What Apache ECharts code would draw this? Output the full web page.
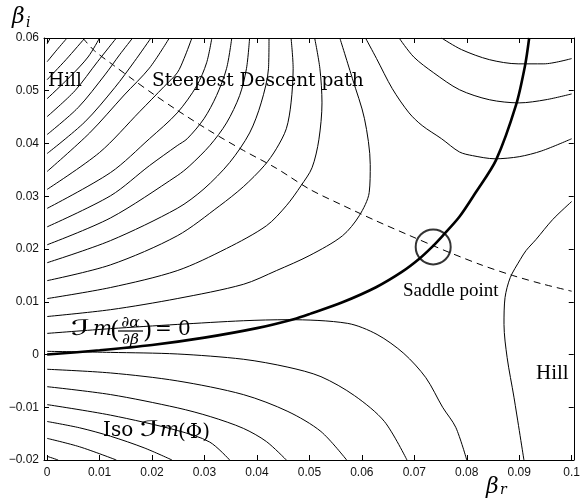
<!DOCTYPE html>
<html><head><meta charset="utf-8">
<script src="https://cdn.jsdelivr.net/npm/echarts@6/dist/echarts.min.js"></script>
<style>html,body{margin:0;padding:0;background:#fff}#c{width:583px;height:502px}</style>
</head><body><div id="c"></div>
<script>
// ---- tick values ----
const xTickValues = [0,0.01,0.02,0.03,0.04,0.05,0.06,0.07,0.08,0.09,0.1];
const yTickValues = [-0.02,-0.01,0,0.01,0.02,0.03,0.04,0.05,0.06];

// ---- iso Im(Phi) contours around the upper-left hill ----
const hillContours = [
  [[0,0.0589],[0.0006,0.06]],
  [[0,0.0555],[0.0019,0.0578],[0.0038,0.06]],
  [[0,0.0521],[0.0036,0.0559],[0.0072,0.06]],
  [[0,0.0485],[0.0044,0.0527],[0.0078,0.0564],[0.0100,0.06]],
  [[0,0.0451],[0.0053,0.0500],[0.0096,0.0555],[0.0132,0.06]],
  [[0,0.0417],[0.0059,0.0468],[0.0110,0.0530],[0.0138,0.0568],[0.0163,0.06]],
  [[0,0.0381],[0.0072,0.0441],[0.0129,0.0506],[0.0166,0.0555],[0.0198,0.06]],
  [[0,0.0347],[0.0081,0.0420],[0.0147,0.0492],[0.0195,0.0543],[0.0233,0.06]],
  [[0,0.0313],[0.0100,0.0383],[0.0176,0.0460],[0.0223,0.0508],[0.0248,0.0534],[0.0261,0.0561],[0.0276,0.06]],
  [[0,0.0277],[0.0121,0.0345],[0.0195,0.0409],[0.0248,0.0458],[0.0285,0.0509],[0.0304,0.0553],[0.0314,0.06]],
  [[0,0.0242],[0.0121,0.0301],[0.0195,0.0358],[0.0248,0.0396],[0.0267,0.0409],[0.0299,0.0447],[0.0323,0.0491],[0.0342,0.0542],[0.0352,0.06]],
  [[0,0.0208],[0.0121,0.0259],[0.0248,0.0339],[0.0272,0.0358],[0.0310,0.0396],[0.0342,0.0439],[0.0367,0.0491],[0.0380,0.0542],[0.0386,0.06]],
  [[0,0.0174],[0.0121,0.0216],[0.0248,0.0277],[0.0299,0.0314],[0.0348,0.0364],[0.0386,0.0420],[0.0408,0.0477],[0.0422,0.0542],[0.0423,0.06]],
  [[0,0.0140],[0.0121,0.0170],[0.0248,0.0225],[0.0329,0.0282],[0.0374,0.0318],[0.0414,0.0358],[0.0437,0.0390],[0.0456,0.0428],[0.0465,0.0477],[0.0469,0.0542],[0.0465,0.06]],
  [[0,0.0106],[0.0121,0.0127],[0.0248,0.0159],[0.0342,0.0201],[0.0418,0.0244],[0.0456,0.0282],[0.0484,0.0320],[0.0505,0.0354],[0.0518,0.0407],[0.0524,0.0477],[0.0520,0.0542],[0.0510,0.06]],
  [[0,0.0072],[0.0121,0.0085],[0.0248,0.0106],[0.0374,0.0133],[0.0437,0.0159],[0.0501,0.0188],[0.0563,0.0225],[0.0595,0.0263],[0.0614,0.0307],[0.0616,0.0360],[0.0605,0.0447],[0.0582,0.0523],[0.0558,0.06]]
];

// ---- contour crossing the thick curve ----
const crossingContour = [[0,0.0040],[0.0121,0.0049],[0.0248,0.0057],[0.0374,0.0064],[0.0459,0.0066],[0.0573,0.0059],[0.0629,0.0038],[0.0680,0.0002],[0.0722,-0.0044],[0.0754,-0.0100],[0.0779,-0.0138],[0.0800,-0.02]];

// ---- lower-left contours ----
const valleyContours = [
  [[0,0.0006],[0.0121,0.0004],[0.0248,0.0001],[0.0374,-0.0009],[0.0459,-0.0024],[0.0522,-0.0042],[0.0586,-0.0078],[0.0643,-0.0127],[0.0686,-0.02]],
  [[0,-0.0028],[0.0121,-0.0035],[0.0248,-0.0050],[0.0374,-0.0076],[0.0459,-0.0108],[0.0522,-0.0146],[0.0571,-0.02]],
  [[0,-0.0061],[0.0121,-0.0076],[0.0248,-0.0101],[0.0312,-0.0118],[0.0374,-0.0140],[0.0418,-0.0165],[0.0456,-0.02]],
  [[0,-0.0095],[0.0121,-0.0115],[0.0248,-0.0144],[0.0310,-0.0166],[0.0348,-0.02]],
  [[0,-0.0127],[0.0062,-0.0139],[0.0121,-0.0155],[0.0185,-0.0177],[0.0238,-0.02]],
  [[0,-0.0159],[0.0062,-0.0175],[0.0132,-0.02]],
  [[0,-0.0193],[0.0021,-0.02]]
];

// ---- upper-right contours ----
const upperRightContours = [
  [[0.0752,0.06],[0.0790,0.0578],[0.0843,0.0559],[0.0898,0.0551],[0.0947,0.0551],[0.1,0.0561]],
  [[0.0671,0.06],[0.0699,0.0564],[0.0737,0.0534],[0.0786,0.0502],[0.0843,0.0483],[0.0900,0.0477],[0.0951,0.0483],[0.1,0.0494]],
  [[0.0607,0.06],[0.0628,0.0561],[0.0658,0.0504],[0.0690,0.0458],[0.0715,0.0434],[0.0752,0.0409],[0.0786,0.0384],[0.0811,0.0377],[0.0854,0.0371],[0.0900,0.0375],[0.0943,0.0386],[0.1,0.0409]]
];

// ---- lower-right hill contour ----
const lowerRightContour = [[0.1,0.0290],[0.0964,0.0256],[0.0932,0.0218],[0.0913,0.0197],[0.0902,0.0180],[0.0883,0.0146],[0.0873,0.0108],[0.0871,0.0057],[0.0877,-0.0006],[0.0890,-0.0081],[0.0909,-0.02]];

// ---- Im(d alpha / d beta) = 0 (thick) ----
const thickCurve = [[0,0],[0.0100,0.0008],[0.0200,0.0018],[0.0300,0.0032],[0.0400,0.0050],[0.0470,0.0067],[0.0501,0.0077],[0.0563,0.0099],[0.0628,0.0128],[0.0677,0.0157],[0.0709,0.0181],[0.0733,0.0203],[0.0754,0.0225],[0.0786,0.0261],[0.0817,0.0307],[0.0856,0.0369],[0.0894,0.0473],[0.0911,0.0547],[0.0919,0.06]];

// ---- steepest descent path (dashed) ----
const descentPath = [[0.0068,0.06],[0.0090,0.0576],[0.0127,0.0548],[0.0164,0.0521],[0.0202,0.0494],[0.0248,0.0463],[0.0310,0.0424],[0.0374,0.0387],[0.0437,0.0353],[0.0501,0.0313],[0.0563,0.0283],[0.0628,0.0253],[0.0690,0.0226],[0.0739,0.0205],[0.0773,0.0191],[0.0830,0.0169],[0.0887,0.0150],[0.0943,0.0134],[0.1,0.0120]];

// ---- saddle point ----
const saddlePoint = [[0.0736,0.0204]];

// =====================================================
const fmt = v => {
  if (Math.abs(v) < 1e-9) return '0';
  return parseFloat(v.toFixed(2)).toString().replace('-', '\u2212');
};
const lineSeries = (data, width, extra) => Object.assign({
  type: 'line', data, symbol: 'none', showSymbol: false, smooth: 0.3,
  silent: true, animation: false,
  lineStyle: { color: '#000', width: width }
}, extra || {});

const series = [];
hillContours.forEach(d => series.push(lineSeries(d, 1)));
valleyContours.forEach(d => series.push(lineSeries(d, 1)));
upperRightContours.forEach(d => series.push(lineSeries(d, 1)));
series.push(lineSeries(crossingContour, 1));
series.push(lineSeries(lowerRightContour, 1));
series.push(lineSeries(descentPath, 1, { lineStyle: { color: '#000', width: 1, type: [7, 5] } }));
series.push(lineSeries(thickCurve, 2.6, { z: 4 }));
series.push({
  type: 'scatter', data: saddlePoint, symbol: 'circle', symbolSize: 35, silent: true, z: 5,
  itemStyle: { color: 'rgba(0,0,0,0)', borderColor: '#000', borderWidth: 2 }
});

const tickFont = { fontFamily: '"Liberation Sans", Arial, sans-serif', fontSize: 12, color: '#111' };
const axisCommon = (extra) => Object.assign({
  type: 'value',
  axisLine: { show: true, onZero: false, lineStyle: { color: '#000', width: 1 } },
  splitLine: { show: false }
}, extra);

const serif = '"DejaVu Serif", serif';
const txt = (x, y, text, font, extra) => Object.assign({
  type: 'text', x: x, y: y, z: 100,
  style: Object.assign({ text: text, font: font, fill: '#000', verticalAlign: 'middle' }, (extra && extra.style) || {})
}, (extra && extra.el) || {});

const chart = echarts.init(document.getElementById('c'), null, { renderer: 'canvas' });
chart.setOption({
  animation: false,
  backgroundColor: '#fff',
  grid: { left: 44, right: 5, top: 38, bottom: 42, containLabel: false },
  xAxis: [
    axisCommon({ position: 'bottom', min: -0.0006, max: 0.1004,
      axisTick: { show: true, inside: true, length: 5, customValues: xTickValues, lineStyle: { color: '#000' } },
      axisLabel: Object.assign({ customValues: xTickValues, formatter: fmt, margin: 7, hideOverlap: false }, tickFont) }),
    axisCommon({ position: 'top', min: -0.0006, max: 0.1004,
      axisTick: { show: true, inside: true, length: 5, customValues: xTickValues, lineStyle: { color: '#000' } },
      axisLabel: { show: false } })
  ],
  yAxis: [
    axisCommon({ position: 'left', min: -0.02, max: 0.06, interval: 0.01,
      axisTick: { show: true, inside: true, length: 5, lineStyle: { color: '#000' } },
      axisLabel: Object.assign({ formatter: fmt, margin: 5, showMinLabel: true, showMaxLabel: true }, tickFont) }),
    axisCommon({ position: 'right', min: -0.02, max: 0.06, interval: 0.01,
      axisTick: { show: true, inside: true, length: 5, lineStyle: { color: '#000' } },
      axisLabel: { show: false } })
  ],
  series: series,
  graphic: [
    txt(12, 17, '\u03B2', 'italic 22px ' + serif),
    txt(26, 23, 'i', 'italic 14px ' + serif),
    txt(486, 487, '\u03B2', 'italic 22px ' + serif),
    txt(500, 490, 'r', 'italic 14px ' + serif),
    txt(48, 81, 'Hill', '18.5px ' + serif),
    txt(152, 81, 'Steepest Descent path', '18.5px ' + serif),
    txt(403, 291, 'Saddle point', '19px "Liberation Serif", serif'),
    txt(536, 373, 'Hill', '21px "Liberation Serif", serif'),
    // Im(d alpha / d beta) = 0
    txt(71, 330, '\u2110', '21px "DejaVu Serif", "DejaVu Sans", serif', { el: { scaleX: 2.0 } }),
    txt(93, 330, 'm', 'italic 20px ' + serif),
    txt(110, 332, '(', '24px ' + serif),
    txt(130.5, 323, '\u2202\u03B1', 'italic 15.5px ' + serif, { style: { align: 'center' } }),
    { type: 'line', z: 100, shape: { x1: 118, y1: 331, x2: 143, y2: 331 }, style: { stroke: '#000', lineWidth: 1.2 } },
    txt(130.5, 339.5, '\u2202\u03B2', 'italic 15.5px ' + serif, { style: { align: 'center' } }),
    txt(143, 332, ')', '24px ' + serif),
    txt(155, 330, '= 0', '20px ' + serif),
    // Iso Im(Phi)
    txt(103, 431, 'Iso', '20px ' + serif),
    txt(140, 431, '\u2110', '21px "DejaVu Serif", "DejaVu Sans", serif', { el: { scaleX: 2.0 } }),
    txt(160, 431, 'm', 'italic 20px ' + serif),
    txt(178, 433, '(\u03A6)', '20px ' + serif)
  ]
});
</script>
</body></html>
